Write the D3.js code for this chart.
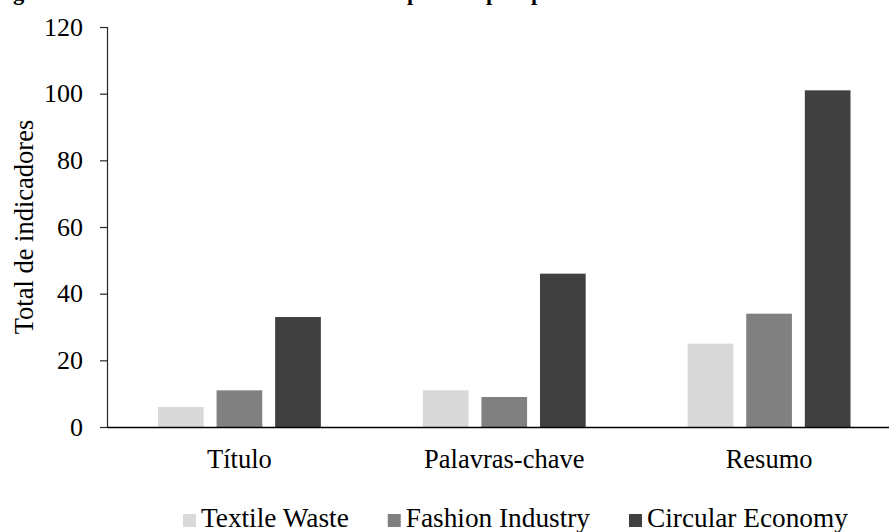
<!DOCTYPE html>
<html>
<head>
<meta charset="utf-8">
<script src="https://cdn.jsdelivr.net/npm/d3@7"></script>
<style>
  body { margin: 0; background: #fff; overflow: hidden; }
  svg text { font-family: "Liberation Serif", "Times New Roman", serif; fill: #000; }
</style>
</head>
<body>
<div id="chart"></div>
<script>
// Data
var categories = ["Título", "Palavras-chave", "Resumo"];
var seriesNames = ["Textile Waste", "Fashion Industry", "Circular Economy"];
var textileWaste = [6, 11, 25];
var fashionIndustry = [11, 9, 34];
var circularEconomy = [33, 46, 101];
var yTicks = [0, 20, 40, 60, 80, 100, 120];
var seriesColors = ["#d9d9d9", "#808080", "#404040"];

var svgWidth = 889;
var svgHeight = 532;

var svg = d3.select("#chart")
  .append("svg")
  .attr("width", svgWidth)
  .attr("height", svgHeight);

// Title (mostly cropped off the top of the picture)
svg.append("text")
  .attr("x", -7)
  .attr("y", 0)
  .style("font-size", "22.5px")
  .style("font-weight", "bold")
  .text("Figura 3 – Total de indicadores localizados por campo e por termo");

// plot area: the right edge runs past the picture
var plot = { left: 107, right: 901.5, top: 27, bottom: 427 };

var values = [textileWaste, fashionIndustry, circularEconomy];
var rows = [];
categories.forEach(function(cat, i) {
  seriesNames.forEach(function(s, j) {
    rows.push({ category: cat, series: s, value: values[j][i], idx: j });
  });
});

var x0 = d3.scaleBand()
  .domain(categories)
  .range([plot.left, plot.right])
  .padding(0);

var x1 = d3.scaleBand()
  .domain(seriesNames)
  .range([0, x0.bandwidth()])
  .paddingInner(0.22)
  .paddingOuter(0.87);

var y = d3.scaleLinear()
  .domain([0, 120])
  .range([plot.bottom, plot.top]);

// bars
svg.append("g")
  .selectAll("rect")
  .data(rows)
  .enter()
  .append("rect")
  .attr("x", d => x0(d.category) + x1(d.series))
  .attr("y", d => y(d.value))
  .attr("width", x1.bandwidth())
  .attr("height", d => y(0) - y(d.value))
  .attr("fill", d => seriesColors[d.idx]);

// y axis
var leftAxis = d3.axisLeft(y)
  .tickValues(yTicks)
  .tickSize(7)
  .tickPadding(17);

var yAxisG = svg.append("g")
  .attr("transform", `translate(${plot.left}, 0)`)
  .call(leftAxis);
yAxisG.select(".domain").attr("stroke", "#262626").attr("stroke-width", 1.2);
yAxisG.selectAll(".tick line").attr("stroke", "#262626").attr("stroke-width", 1.2);
yAxisG.selectAll(".tick text")
  .style("font-size", "26px")
  .style("font-family", "'Liberation Serif', 'Times New Roman', serif")
  .attr("fill", "#000");

// x axis
var bottomAxis = d3.axisBottom(x0)
  .tickSize(0)
  .tickPadding(22);

var xAxisG = svg.append("g")
  .attr("transform", `translate(0, ${plot.bottom})`)
  .call(bottomAxis);
xAxisG.select(".domain").attr("stroke", "#000").attr("stroke-width", 1.5);
xAxisG.selectAll(".tick text")
  .style("font-size", "26.5px")
  .style("font-family", "'Liberation Serif', 'Times New Roman', serif")
  .attr("fill", "#000");

// y axis title
svg.append("text")
  .attr("transform", "rotate(-90)")
  .attr("x", -(plot.top + plot.bottom) / 2)
  .attr("y", 33)
  .attr("text-anchor", "middle")
  .style("font-size", "26.5px")
  .text("Total de indicadores");

// legend
var legend = svg.append("g");
var lx = 183;
seriesNames.forEach(function(name, i) {
  legend.append("rect")
    .attr("x", lx)
    .attr("y", 514)
    .attr("width", 13)
    .attr("height", 13)
    .attr("fill", seriesColors[i]);
  var t = legend.append("text")
    .attr("x", lx + 18)
    .attr("y", 527)
    .style("font-size", "27.3px")
    .text(name);
  lx += 18 + t.node().getComputedTextLength() + 39;
});
</script>
</body>
</html>
